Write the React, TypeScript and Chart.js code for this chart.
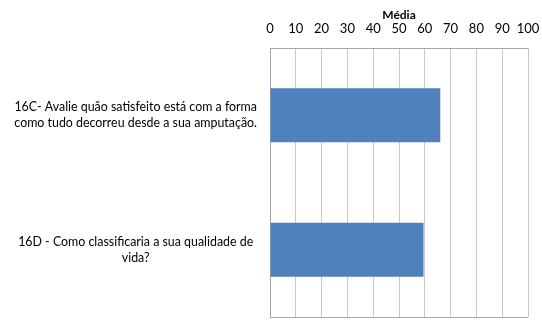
import React, { useEffect, useRef } from "react";
import { Chart, registerables } from "chart.js";

Chart.register(...registerables);

const categories: string[][] = [
  ["16C- Avalie quão satisfeito está com a forma", "como tudo decorreu desde a sua amputação."],
  ["16D - Como classificaria a sua qualidade de", "vida?"],
];
const values: number[] = [66, 59.5];
const axisTitle = "Média";

const borderPlugin = {
  id: "bottomBorder",
  afterDraw(chart: any) {
    const { ctx, chartArea } = chart;
    ctx.save();
    ctx.strokeStyle = "#a6a6a6";
    ctx.lineWidth = 1;
    ctx.beginPath();
    ctx.moveTo(chartArea.left, Math.round(chartArea.bottom) + 0.5);
    ctx.lineTo(chartArea.right, Math.round(chartArea.bottom) + 0.5);
    ctx.stroke();
    ctx.restore();
  },
};

export default function App() {
  const ref = useRef<HTMLCanvasElement>(null);
  useEffect(() => {
    if (!ref.current) return;
    const chart = new Chart(ref.current, {
      type: "bar",
      data: {
        labels: categories,
        datasets: [
          {
            data: values,
            backgroundColor: "#4F81BD",
            borderWidth: 0,
            barPercentage: 0.4,
            categoryPercentage: 1,
          },
        ],
      },
      options: {
        indexAxis: "y",
        animation: false,
        responsive: false,
        maintainAspectRatio: false,
        layout: { padding: { top: 0, right: 0, bottom: 3, left: 0 } },
        plugins: {
          legend: { display: false },
          tooltip: { enabled: false },
          title: {
            display: true,
            text: axisTitle,
            fullSize: false,
            color: "#000",
            font: { family: "Lato", size: 12, weight: "bold", lineHeight: 1.2 },
            padding: { top: 8, bottom: 0 },
          },
        },
        scales: {
          x: {
            position: "top",
            min: 0,
            max: 100,
            afterFit: (s: any) => {
              s.paddingRight = 14;
              s.height = 25.6;
            },
            ticks: {
              stepSize: 10,
              color: "#000",
              maxRotation: 0,
              minRotation: 0,
              autoSkip: false,
              font: { family: "Lato", size: 13 },
              padding: 11,
            },
            grid: { color: "#c8c8c8", drawTicks: false },
            border: { color: "#a6a6a6" },
          },
          y: {
            afterFit: (s: any) => {
              s.width = 270;
              s.paddingTop = 0;
              s.paddingBottom = 0;
            },
            grid: { display: false },
            border: { color: "#a6a6a6" },
            ticks: {
              color: "#000",
              crossAlign: "center",
              font: { family: "Lato", size: 12.4, lineHeight: 1.3 },
              padding: 5,
            },
          },
        },
      },
      plugins: [borderPlugin],
    });
    return () => chart.destroy();
  }, []);
  return (
    <div style={{ position: "fixed", left: 0, top: 0, width: 542, height: 320, background: "#fff" }}>
      <canvas ref={ref} width={542} height={320} />
    </div>
  );
}
